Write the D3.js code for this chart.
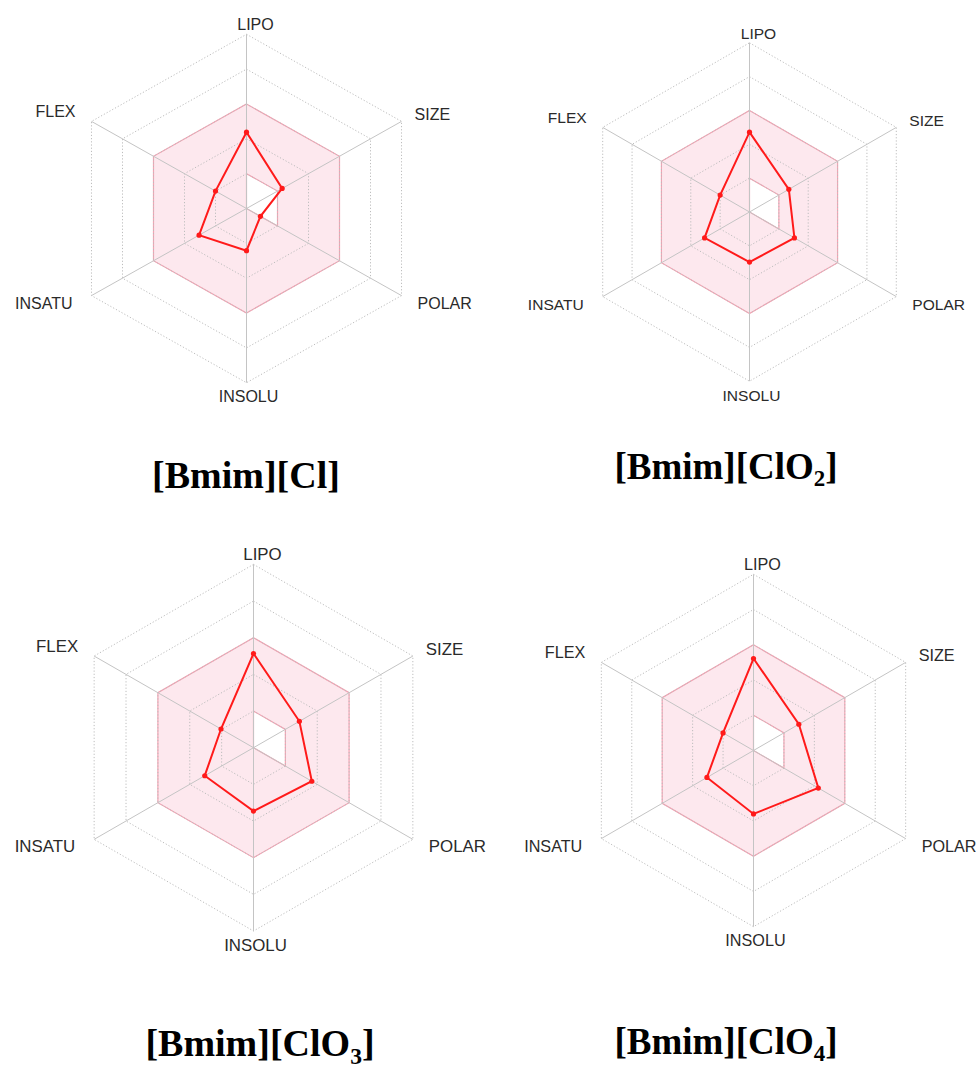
<!DOCTYPE html>
<html>
<head>
<meta charset="utf-8">
<script src="https://cdn.jsdelivr.net/npm/d3@7"></script>
<style>
html,body{margin:0;padding:0;background:#fff;}
svg{display:block;}
</style>
</head>
<body>
<svg id="chart" width="976" height="1068"></svg>
<script>
// Axes of the bioavailability radar (clockwise from top)
const axes = ["LIPO", "SIZE", "POLAR", "INSOLU", "INSATU", "FLEX"];

// Values on the radar's 0–5 grid scale
const clValues   = [2.19, 1.15, 0.45, 1.21, 1.53, 1.00];
const clo2Values = [2.36, 1.34, 1.53, 1.48, 1.53, 1.00];
const clo3Values = [2.57, 1.44, 1.83, 1.73, 1.53, 1.02];
const clo4Values = [2.61, 1.49, 2.13, 1.80, 1.53, 1.00];

// Optimal (pink) range per axis, same grid scale
const optMin = [1, 1, 1, 0, 0, 0];
const optMax = [3, 3, 3, 3, 3, 3];

const gridLevels = [1, 2, 3, 4, 5];

// Title pieces: main text and subscript
const titleMain = ["[Bmim][Cl]", "[Bmim][ClO", "[Bmim][ClO", "[Bmim][ClO"];
const titleSub  = ["", "2", "3", "4"];

const seriesList = [clValues, clo2Values, clo3Values, clo4Values];

// Layout per panel (centre, radii, title placement)
const panels = [
  {cx: 246.5, cy: 208.5, rx: 179, ry: 174.2, tx: 246, ty: 488, tsize: 38},
  {cx: 749.5, cy: 212,   rx: 169.5, ry: 169.2, tx: 726, ty: 479, tsize: 37},
  {cx: 253.5, cy: 747.7, rx: 184, ry: 183.3, tx: 260, ty: 1056, tsize: 38},
  {cx: 753.5, cy: 750.5, rx: 175.7, ry: 176.2, tx: 726, ty: 1054, tsize: 37}
];

const svg = d3.select("#chart");
const angle = d3.scaleLinear().domain([0, axes.length]).range([0, 2 * Math.PI]);
const r = d3.scaleLinear().domain([0, 5]).range([0, 1]);

panels.forEach((p, pi) => {
  const g = svg.append("g");
  const pt = (i, v) => [p.cx + p.rx * r(v) * Math.sin(angle(i)), p.cy - p.ry * r(v) * Math.cos(angle(i))];
  const ring = vals => vals.map((v, i) => pt(i, v));
  const closed = pts => "M" + pts.map(d => d.join(",")).join("L") + "Z";

  // pink optimal zone (outer hexagon minus inner polygon)
  g.append("path")
    .attr("d", closed(ring(optMax)) + closed(ring(optMin)))
    .attr("fill", "#fde8ee")
    .attr("fill-rule", "evenodd")
    .attr("stroke", "#f4a3b3")
    .attr("stroke-width", 1.2);

  // dotted concentric hexagons
  gridLevels.forEach(l => {
    g.append("path")
      .attr("d", closed(ring(axes.map(() => l))))
      .attr("fill", "none")
      .attr("stroke", "#bdbdbd")
      .attr("stroke-width", 1)
      .attr("stroke-dasharray", "1.2,2");
  });

  // solid spokes
  axes.forEach((a, i) => {
    const e = pt(i, 5);
    g.append("line")
      .attr("x1", p.cx).attr("y1", p.cy)
      .attr("x2", e[0]).attr("y2", e[1])
      .attr("stroke", "#c4c4c4").attr("stroke-width", 1);
  });

  // data polygon
  const vals = seriesList[pi];
  const dpts = ring(vals);
  g.append("path")
    .attr("d", d3.line().curve(d3.curveLinearClosed)(dpts))
    .attr("fill", "none")
    .attr("stroke", "#ff1a1a")
    .attr("stroke-width", 2);
  g.selectAll("circle.pt").data(dpts).enter().append("circle")
    .attr("cx", d => d[0]).attr("cy", d => d[1]).attr("r", 2.6)
    .attr("fill", "#ff1a1a");

  // axis labels
  const fs = 16 * p.ry / 174;
  const lab = [
    {dx: 9, dy: -4, anchor: "middle"},
    {dx: 13, dy: -1.5, anchor: "start"},
    {dx: 16, dy: 13, anchor: "start"},
    {dx: 2, dy: 19.5, anchor: "middle"},
    {dx: -19, dy: 13, anchor: "end"},
    {dx: -16, dy: -4.5, anchor: "end"}
  ];
  axes.forEach((a, i) => {
    const e = pt(i, 5);
    g.append("text")
      .attr("x", e[0] + lab[i].dx).attr("y", e[1] + lab[i].dy)
      .attr("text-anchor", lab[i].anchor)
      .attr("font-family", "Liberation Sans, Arial, sans-serif")
      .attr("font-size", fs)
      .attr("fill", "#2a2a2a")
      .text(a);
  });

  // title
  const t = svg.append("text")
    .attr("x", p.tx).attr("y", p.ty)
    .attr("text-anchor", "middle")
    .attr("font-family", "Liberation Serif, Times New Roman, serif")
    .attr("font-weight", "bold")
    .attr("font-size", p.tsize)
    .attr("fill", "#000");
  t.append("tspan").text(titleMain[pi]);
  if (titleSub[pi]) {
    t.append("tspan").attr("font-size", p.tsize * 0.62).attr("dy", p.tsize * 0.2).text(titleSub[pi]);
    t.append("tspan").attr("dy", -p.tsize * 0.2).text("]");
  }
});
</script>
</body>
</html>
